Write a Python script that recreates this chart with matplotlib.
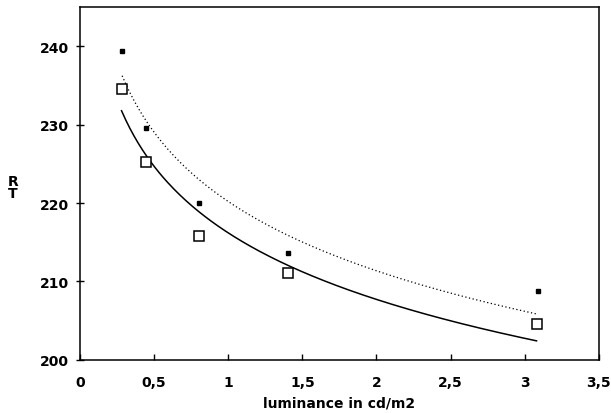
import numpy as np
import matplotlib
matplotlib.use("Agg")
import matplotlib.pyplot as plt

plt.rcParams['font.family'] = ['DejaVu Sans']

# Data
x_sq = [0.28, 0.447, 0.804, 1.40, 3.08]
y_sq = [234.5, 225.2, 215.8, 211.1, 204.55]
x_dot = [0.284, 0.447, 0.804, 1.40, 3.087]
y_dot = [239.4, 229.6, 220.0, 213.6, 208.8]
x_ticks = [0, 0.5, 1, 1.5, 2, 2.5, 3, 3.5]
x_ticklabels = ["0", "0,5", "1", "1,5", "2", "2,5", "3", "3,5"]
y_ticks = [200, 210, 220, 230, 240]

fig = plt.figure(figsize=(6.11, 4.14), dpi=100)
ax = fig.add_axes([0.131, 0.129, 0.849, 0.851])

# logarithmic regression fits of each series
def logfit(xs, ys):
    b, a = np.polyfit(np.log(xs), ys, 1)
    xx = np.linspace(min(xs), max(xs), 200)
    return xx, a + b * np.log(xx)

xx, yy = logfit(x_sq, y_sq)
ax.plot(xx, yy, color='black', lw=1.1, ls='-')
xx, yy = logfit(x_dot, y_dot)
ax.plot(xx, yy, color='black', lw=0.9, ls=(0, (1, 2)))

ax.plot(x_sq, y_sq, ls='none', marker='s', ms=7, mfc='white', mec='black', mew=1.1)
ax.plot(x_dot, y_dot, ls='none', marker='s', ms=2.5, mfc='black', mec='black')

ax.set_xlim(0, 3.5)
ax.set_ylim(200, 245)
ax.set_xticks(x_ticks)
ax.set_xticklabels(x_ticklabels)
ax.set_yticks(y_ticks)
for s in ax.spines.values():
    s.set_linewidth(1.1)
ax.tick_params(axis='x', direction='in', length=4.5, width=1.0, labelsize=10, pad=11)
ax.tick_params(axis='y', direction='inout', length=6, width=1.0, labelsize=10, pad=5)
for lab in ax.get_xticklabels() + ax.get_yticklabels():
    lab.set_fontweight('bold')

ax.set_xlabel("luminance in cd/m2", fontsize=10, fontweight='bold', labelpad=5)
fig.text(0.021, 0.546, "R\nT", ha='center', va='center', fontsize=10,
         fontweight='bold', linespacing=0.85)

fig.savefig("out.png", dpi=100)
